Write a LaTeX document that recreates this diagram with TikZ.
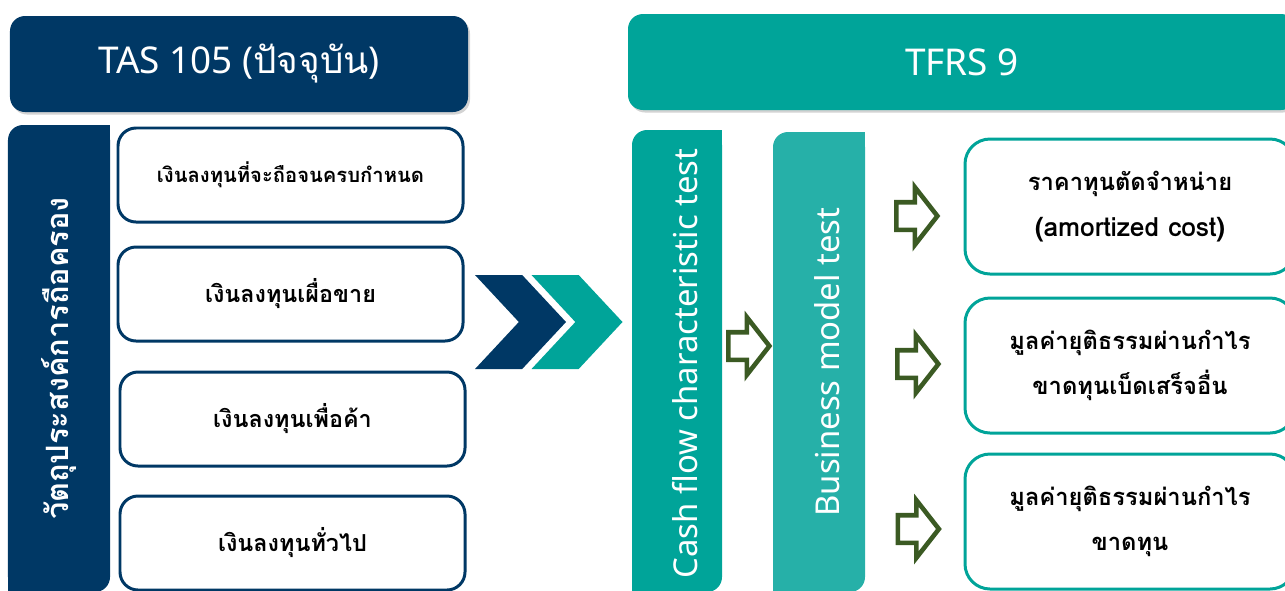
\documentclass[tikz,border=0pt]{standalone}
\usepackage{fontspec}
\setmainfont{Noto Sans}
\newfontfamily\thaifont[Script=Thai]{Loma}
\usetikzlibrary{shapes.arrows,shapes.symbols,shadows}

\definecolor{tasblue}{HTML}{003865}
\definecolor{tfrsteal}{HTML}{00A499}
\definecolor{bizteal}{HTML}{26B0A8}
\definecolor{arrowgreen}{HTML}{3B5A23}

\tikzset{
    header/.style={rounded corners=0.3cm, minimum height=1.92cm, text=white,
        font=\fontsize{21}{25}\selectfont,
        drop shadow={opacity=0.35, shadow xshift=0.04cm, shadow yshift=-0.05cm}},
    bar/.style={rounded corners=0.3cm, inner sep=0},
    bartext/.style={rotate=90, text=white, font=\fontsize{18.7}{22}\selectfont},
    leftbox/.style={draw=tasblue, line width=1.7pt, rounded corners=0.36cm, fill=white,
        minimum width=6.9cm, minimum height=1.88cm,
        font=\thaifont\bfseries\fontsize{13.3}{15}\selectfont},
    resultbox/.style={draw=tfrsteal, line width=1.7pt, rounded corners=0.5cm, fill=white,
        minimum width=6.6cm, minimum height=2.7cm, align=center,
        font=\thaifont\bfseries\fontsize{13.5}{26}\selectfont},
    chevron/.style={signal, signal from=west, signal to=east, signal pointer angle=94,
        minimum width=1.82cm, minimum height=1.88cm, inner sep=0},
    hollowarrow/.style={single arrow, draw=arrowgreen, line width=2.6pt,
        minimum height=0.82cm, inner xsep=0, inner ysep=0.23cm,
        single arrow head extend=0.3cm, single arrow tip angle=104}
}

\begin{document}
\begin{tikzpicture}
    \useasboundingbox (0,0) rectangle (25.7,-11.8);

    % headers
    \node[header, fill=tasblue, minimum width=9.16cm] (tas) at (4.78,-1.28)
        {TAS 105 ({\thaifont ปัจจุบัน})};
    \node[header, fill=tfrsteal, minimum width=13.36cm] (tfrs) at (19.24,-1.24) {TFRS 9};

    % purpose bar
    \node[bar, fill=tasblue, minimum width=2.04cm, minimum height=9.34cm] (purpose) at (1.18,-7.17) {};
    \fill[tasblue] (purpose.north east) rectangle ++(-0.35,-0.35);
    \fill[tasblue] (purpose.south west) rectangle ++(0.35,0.35);
    \node[bartext, font=\thaifont\bfseries\fontsize{17.5}{20}\selectfont] (purposetext) at (purpose)
        {วัตถุประสงค์การถือครอง};

    % investment types
    \node[leftbox, font=\thaifont\bfseries\fontsize{11.5}{14}\selectfont] (held) at (5.81,-3.5)
        {เงินลงทุนที่จะถือจนครบกำหนด};
    \node[leftbox] (sale) at (5.81,-5.88) {เงินลงทุนเผื่อขาย};
    \node[leftbox] (trade) at (5.85,-8.38) {เงินลงทุนเพื่อค้า};
    \node[leftbox] (general) at (5.85,-10.86) {เงินลงทุนทั่วไป};

    % chevrons
    \node[chevron, fill=tasblue] (chevnavy) at (10.41,-6.44) {};
    \node[chevron, fill=tfrsteal] (chevteal) at (11.54,-6.44) {};

    % tests
    \node[bar, fill=tfrsteal, minimum width=1.8cm, minimum height=9.24cm] (cash) at (13.54,-7.22) {};
    \fill[tfrsteal] (cash.north east) rectangle ++(-0.35,-0.35);
    \fill[tfrsteal] (cash.south west) rectangle ++(0.35,0.35);
    \node[bartext] (cashtext) at ([xshift=0.16cm,yshift=-0.05cm]cash.center) {Cash flow characteristic test};

    \node[bar, fill=bizteal, minimum width=1.84cm, minimum height=9.2cm] (business) at (16.38,-7.24) {};
    \fill[bizteal] (business.north east) rectangle ++(-0.35,-0.35);
    \fill[bizteal] (business.south west) rectangle ++(0.35,0.35);
    \node[bartext] (businesstext) at ([xshift=0.16cm]business.center) {Business model test};

    % arrows
    \node[hollowarrow] (arr0) at (14.87,-6.92) {};
    \node[hollowarrow] (arr1) at (18.23,-4.32) {};
    \node[hollowarrow] (arr2) at (18.25,-7.28) {};
    \node[hollowarrow] (arr3) at (18.26,-10.58) {};

    % results
    \node[resultbox] (amort) at (22.6,-4.13)
        {ราคาทุนตัดจำหน่าย\\{\fontsize{15}{26}\selectfont (amortized cost)}};
    \node[resultbox] (fvoci) at (22.6,-7.31)
        {มูลค่ายุติธรรมผ่านกำไร\\ขาดทุนเบ็ดเสร็จอื่น};
    \node[resultbox] (fvpl) at (22.6,-10.43)
        {มูลค่ายุติธรรมผ่านกำไร\\ขาดทุน};
\end{tikzpicture}
\end{document}
